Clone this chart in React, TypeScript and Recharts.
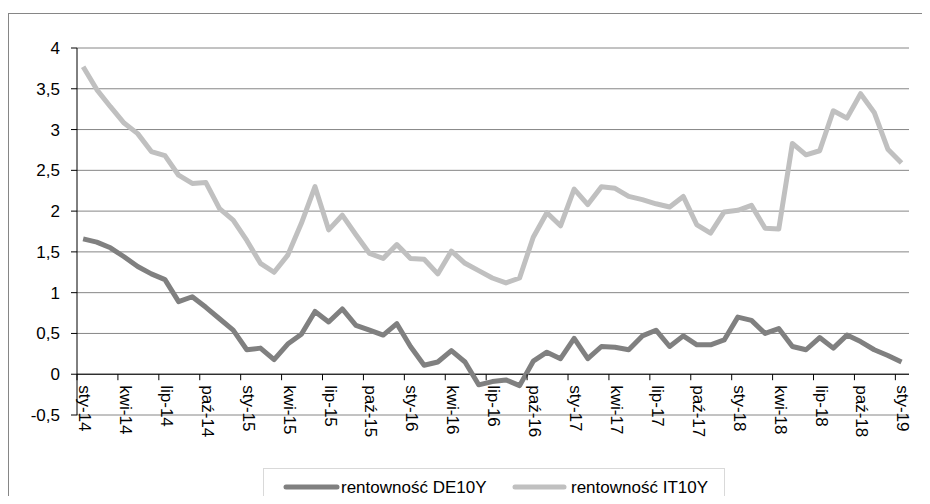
import React from 'react';
import { LineChart, Line, XAxis, YAxis, CartesianGrid, ReferenceLine } from 'recharts';

// monthly yields, Jan 2014 - Jan 2019
const months = [
  'sty-14', 'lut-14', 'mar-14', 'kwi-14', 'maj-14', 'cze-14', 'lip-14', 'sie-14', 'wrz-14', 'paź-14', 'lis-14', 'gru-14',
  'sty-15', 'lut-15', 'mar-15', 'kwi-15', 'maj-15', 'cze-15', 'lip-15', 'sie-15', 'wrz-15', 'paź-15', 'lis-15', 'gru-15',
  'sty-16', 'lut-16', 'mar-16', 'kwi-16', 'maj-16', 'cze-16', 'lip-16', 'sie-16', 'wrz-16', 'paź-16', 'lis-16', 'gru-16',
  'sty-17', 'lut-17', 'mar-17', 'kwi-17', 'maj-17', 'cze-17', 'lip-17', 'sie-17', 'wrz-17', 'paź-17', 'lis-17', 'gru-17',
  'sty-18', 'lut-18', 'mar-18', 'kwi-18', 'maj-18', 'cze-18', 'lip-18', 'sie-18', 'wrz-18', 'paź-18', 'lis-18', 'gru-18',
  'sty-19',
];

const de10y = [
  1.66, 1.62, 1.55, 1.44, 1.32, 1.23, 1.16, 0.89, 0.95, 0.82, 0.68, 0.54,
  0.30, 0.32, 0.18, 0.37, 0.49, 0.77, 0.64, 0.80, 0.60, 0.54, 0.48, 0.62,
  0.34, 0.11, 0.15, 0.29, 0.15, -0.13, -0.09, -0.07, -0.14, 0.16, 0.27, 0.19,
  0.44, 0.19, 0.34, 0.33, 0.30, 0.47, 0.54, 0.34, 0.47, 0.36, 0.36, 0.42,
  0.70, 0.66, 0.50, 0.56, 0.34, 0.30, 0.45, 0.32, 0.48, 0.40, 0.30, 0.23,
  0.15,
];

const it10y = [
  3.77, 3.49, 3.28, 3.08, 2.95, 2.73, 2.68, 2.44, 2.34, 2.35, 2.03, 1.89,
  1.64, 1.36, 1.25, 1.46, 1.85, 2.30, 1.77, 1.95, 1.71, 1.48, 1.42, 1.59,
  1.42, 1.41, 1.23, 1.51, 1.36, 1.27, 1.18, 1.12, 1.18, 1.68, 1.98, 1.82,
  2.27, 2.08, 2.30, 2.28, 2.18, 2.14, 2.09, 2.05, 2.18, 1.83, 1.73, 1.99,
  2.01, 2.07, 1.79, 1.78, 2.83, 2.69, 2.74, 3.23, 3.14, 3.44, 3.21, 2.76,
  2.59,
];

const yTicks = [-0.5, 0, 0.5, 1, 1.5, 2, 2.5, 3, 3.5, 4];

// readings are taken mid-month on a date axis
const MID_MONTH = 0.45;

const data = months.map((m, i) => ({
  month: m,
  x: i + MID_MONTH,
  de: de10y[i],
  it: it10y[i],
}));

const xTicks = months.map((_, i) => i).filter((i) => i % 3 === 0);

const FONT = '"Liberation Sans", Arial, sans-serif';
const W = 914;
const H = 488;
const X_AXIS_H = 10;
const MARGIN = { top: 40, right: 13, bottom: 81 - X_AXIS_H, left: 0 };
const PLOT_H = H - MARGIN.top - MARGIN.bottom - X_AXIS_H;
// distance from the bottom of the plot (-0,5) up to the zero line
const ZERO_OFFSET = (PLOT_H * 0.5) / 4.5;

const fmt = (v: number) => String(v).replace('.', ',');

const XTick = (props: any) => {
  const { x, y, payload } = props;
  // y is the top of the x axis band (plot bottom) since tickSize/tickMargin are 0
  const zeroY = y - ZERO_OFFSET;
  return (
    <g>
      <line x1={x} x2={x} y1={zeroY} y2={zeroY + 6} stroke="#000" />
      <text
        transform={`translate(${x + 2},${zeroY + 11}) rotate(90)`}
        textAnchor="start"
        fontSize={17}
        fontFamily={FONT}
        fill="#000"
      >
        {months[payload.value]}
      </text>
    </g>
  );
};

export default function App() {
  return (
    <div style={{ position: 'relative', width: W, height: H, overflow: 'hidden', background: '#fff' }}>
      {/* chart frame: only its top and left edges fall inside the picture */}
      <div
        style={{
          position: 'absolute',
          left: 0,
          top: 5,
          right: 0,
          bottom: 0,
          borderTop: '1px solid #868686',
          borderLeft: '1px solid #868686',
        }}
      />
      <div style={{ position: 'absolute', left: 0, top: 0 }}>
        <LineChart width={W} height={H} data={data} margin={MARGIN}>
          <CartesianGrid vertical={false} stroke="#868686" />
          <XAxis
            dataKey="x"
            type="number"
            domain={[0, 61]}
            ticks={xTicks}
            interval={0}
            height={X_AXIS_H}
            axisLine={false}
            tickLine={false}
            tickSize={0}
            tickMargin={0}
            tick={(p: any) => <XTick {...p} />}
          />
          <YAxis
            domain={[-0.5, 4]}
            ticks={yTicks}
            interval={0}
            width={69}
            axisLine={{ stroke: '#000' }}
            tickLine={{ stroke: '#000' }}
            tickSize={6}
            tickMargin={11}
            tickFormatter={fmt}
            tick={{ fontSize: 17, fontFamily: FONT, fill: '#000' }}
          />
          <ReferenceLine y={0} stroke="#000" />
          <Line
            type="linear"
            dataKey="de"
            stroke="#808080"
            strokeWidth={5}
            strokeLinejoin="round"
            dot={false}
            isAnimationActive={false}
          />
          <Line
            type="linear"
            dataKey="it"
            stroke="#c0c0c0"
            strokeWidth={5}
            strokeLinejoin="round"
            dot={false}
            isAnimationActive={false}
          />
        </LineChart>
      </div>
      <div
        style={{
          position: 'absolute',
          left: 255,
          top: 460,
          width: 460,
          height: 40,
          border: '1px solid #d9d9d9',
          background: '#fff',
        }}
      >
        <svg width={460} height={40} style={{ display: 'block' }}>
          <line x1={22} x2={73} y1={18} y2={18} stroke="#808080" strokeWidth={5} strokeLinecap="round" />
          <text x={77} y={24} fontSize={17} fontFamily={FONT} fill="#000">
            rentowność DE10Y
          </text>
          <line x1={251} x2={300} y1={18} y2={18} stroke="#c0c0c0" strokeWidth={5} strokeLinecap="round" />
          <text x={307} y={24} fontSize={17} fontFamily={FONT} fill="#000">
            rentowność IT10Y
          </text>
        </svg>
      </div>
    </div>
  );
}
